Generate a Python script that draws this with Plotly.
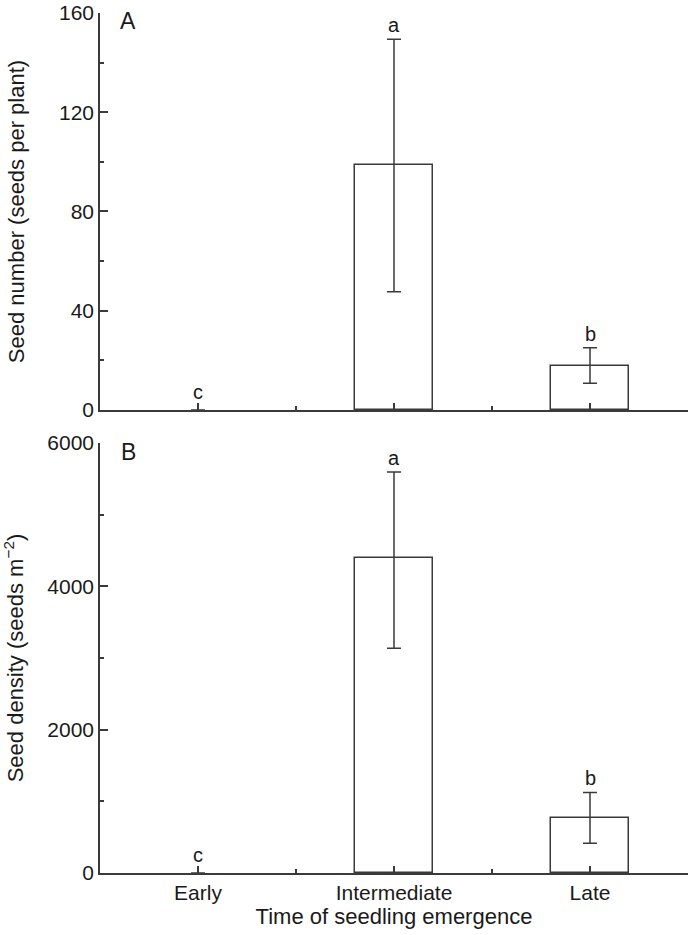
import plotly.graph_objects as go

categories = ["Early", "Intermediate", "Late"]
x_pos = [0, 1, 2]

seed_number = [0, 98.7, 17.9]
seed_number_err_up = [None, 50.7, 7.2]
seed_number_err_down = [None, 51.0, 7.1]
seed_number_letters = ["c", "a", "b"]

seed_density = [0, 4390, 770]
seed_density_err_up = [None, 1205, 355]
seed_density_err_down = [None, 1255, 355]
seed_density_letters = ["c", "a", "b"]

LINE = "#3a3a3a"
TXT = "#1a1a1a"
FONT = "Liberation Sans, Arial, Helvetica, sans-serif"

fig = go.Figure()

def add_panel(vals, up, down, xa, ya):
    widths = [1.5 if v else 0 for v in vals]
    fig.add_trace(go.Bar(
        x=x_pos, y=vals, width=0.4, xaxis=xa, yaxis=ya,
        marker=dict(color="white", line=dict(color=LINE, width=widths)),
        error_y=dict(type="data", symmetric=False, array=up, arrayminus=down,
                     color=LINE, thickness=1.5, width=7),
        showlegend=False, hoverinfo="skip",
    ))

add_panel(seed_number, seed_number_err_up, seed_number_err_down, "x", "y")
add_panel(seed_density, seed_density_err_up, seed_density_err_down, "x2", "y2")

def add_letters(vals, up, letters, xref, yref):
    for xi, v, e, t in zip(x_pos, vals, up, letters):
        top = v + (e or 0)
        fig.add_annotation(x=xi, y=top, xref=xref, yref=yref, text=t,
                           showarrow=False, yanchor="bottom",
                           yshift=(1 if e else 5),
                           font=dict(size=20, color=TXT, family=FONT))

add_letters(seed_number, seed_number_err_up, seed_number_letters, "x", "y")
add_letters(seed_density, seed_density_err_up, seed_density_letters, "x2", "y2")

fig.add_annotation(x=0.048, y=0.98, xref="x domain", yref="y domain", text="A",
                   showarrow=False, xanchor="center", yanchor="middle",
                   font=dict(size=23, color=TXT, family=FONT))
fig.add_annotation(x=0.048, y=0.979, xref="x2 domain", yref="y2 domain", text="B",
                   showarrow=False, xanchor="center", yanchor="middle",
                   font=dict(size=23, color=TXT, family=FONT))

xcommon = dict(range=[-0.5, 2.5], showline=True, linecolor=LINE, linewidth=1.5,
               ticks="inside", ticklen=7, tickwidth=1.5, tickcolor=LINE,
               tickvals=x_pos, showgrid=False, zeroline=False,
               minor=dict(tickvals=[0.5, 1.5, 2.5], ticks="inside", ticklen=4,
                          tickwidth=1.5, tickcolor=LINE, showgrid=False),
               tickfont=dict(size=21, color=TXT, family=FONT))
ycommon = dict(showline=True, linecolor=LINE, linewidth=1.5,
               ticks="inside", ticklen=8, tickwidth=1.5, tickcolor=LINE,
               showgrid=False, zeroline=False,
               tickfont=dict(size=21, color=TXT, family=FONT))

fig.update_layout(
    width=688, height=935,
    margin=dict(l=100, r=0, t=13, b=62, autoexpand=False),
    paper_bgcolor="white", plot_bgcolor="white",
    font=dict(family=FONT, color=TXT),
    bargap=0,
    xaxis=dict(xcommon, anchor="y", showticklabels=False),
    yaxis=dict(ycommon, domain=[0.5384, 1], range=[0, 160], dtick=40, tick0=0,
               minor=dict(dtick=20, ticks="inside", ticklen=4, tickwidth=1.5,
                          tickcolor=LINE, showgrid=False),
               title=dict(text="Seed number (seeds per plant)", standoff=28,
                          font=dict(size=22, color=TXT, family=FONT))),
    xaxis2=dict(xcommon, anchor="y2", ticktext=categories,
                title=dict(text="Time of seedling emergence", standoff=0,
                           font=dict(size=22, color=TXT, family=FONT))),
    yaxis2=dict(ycommon, domain=[0, 0.5], range=[0, 6000], dtick=2000, tick0=0,
                minor=dict(dtick=1000, ticks="inside", ticklen=4, tickwidth=1.5,
                           tickcolor=LINE, showgrid=False),
                title=dict(text="Seed density (seeds m<sup>−2</sup>)", standoff=19,
                           font=dict(size=22, color=TXT, family=FONT))),
)

fig.write_html("out.html", config={"displayModeBar": False},
               post_script="document.body.style.margin='0';document.body.style.padding='0';")
